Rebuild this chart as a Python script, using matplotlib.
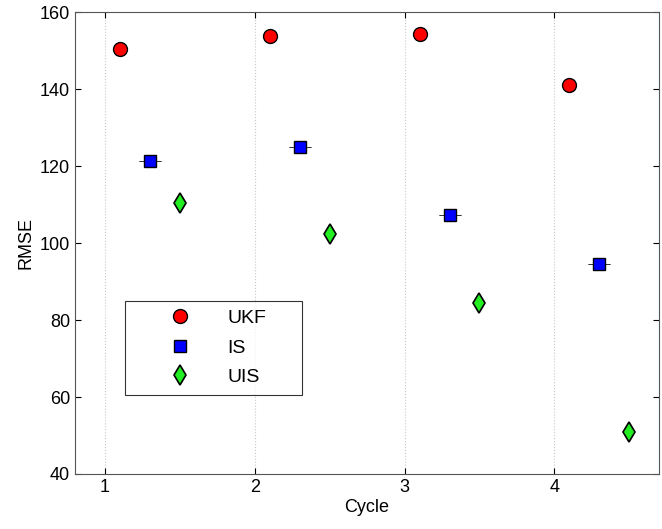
import numpy as np
import matplotlib.pyplot as plt

plt.rcParams['font.family'] = ['Liberation Sans', 'DejaVu Sans']

# データ
ukf_x = [1.1, 2.1, 3.1, 4.1]
ukf_y = [150.4, 153.8, 154.3, 141.0]
is_x = [1.3, 2.3, 3.3, 4.3]
is_y = [121.3, 124.9, 107.3, 94.5]
uis_x = [1.5, 2.5, 3.5, 4.5]
uis_y = [110.4, 102.3, 84.4, 50.9]

fig = plt.figure(figsize=(6.62, 5.29), dpi=100)
ax = fig.add_axes([0.113, 0.104, 0.883, 0.873])

ax.errorbar(is_x, is_y, yerr=0.02, fmt='none', ecolor='#333333', elinewidth=0.6, capsize=8, capthick=0.6)
ax.plot(ukf_x, ukf_y, 'o', color='red', markeredgecolor='black', markersize=10, markeredgewidth=1.0, label='UKF')
ax.plot(is_x, is_y, 's', color='blue', markeredgecolor='black', markersize=9, markeredgewidth=1.0, label='IS')
ax.plot(uis_x, uis_y, 'd', color='#22ee22', markeredgecolor='black', markersize=10, markeredgewidth=1.2, label='UIS')

ax.set_xlim(0.8, 4.7)
ax.set_ylim(40, 160)
ax.set_xticks([1, 2, 3, 4])
ax.set_yticks(np.arange(40, 161, 20))
ax.xaxis.grid(True, linestyle=':', color='#c8c8c8', linewidth=0.8)
ax.tick_params(direction='in', labelsize=13, top=True, right=True, length=4)
for s in ax.spines.values():
    s.set_color('#555555')
ax.set_xlabel('Cycle', fontsize=13, labelpad=2)
ax.set_ylabel('RMSE', fontsize=13)

leg = ax.legend(loc='lower left', bbox_to_anchor=(0.086, 0.171, 0.303, 0.195), mode='expand',
                borderaxespad=0, fontsize=14, frameon=True, fancybox=False, edgecolor='black',
                handletextpad=0.0, handlelength=4.8, labelspacing=0.62, borderpad=0.45)
leg.get_frame().set_linewidth(0.8)

plt.savefig('out.png', dpi=100)
